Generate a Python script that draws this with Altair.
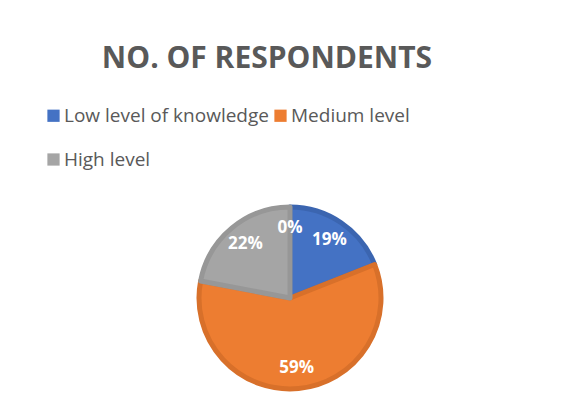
import altair as alt
import pandas as pd

categories = ["Low level of knowledge", "Medium level", "High level", "Other"]
values = [19, 59, 22, 0]
order_idx = [0, 1, 2, 3]
fill_colors = ["#4472C4", "#ED7D31", "#A5A5A5", "#FFC000"]
stroke_colors = ["#3B65B0", "#D8702A", "#979797", "#E0A800"]
legend_values = ["Low level of knowledge", "Medium level", "High level"]

df = pd.DataFrame({"category": categories, "value": values, "idx": order_idx})

base = alt.Chart(df).transform_calculate(
    label="datum.value + '%'"
).encode(
    theta=alt.Theta("value:Q", stack=True),
    order=alt.Order("idx:Q"),
)

arcs = base.mark_arc(radius=91, strokeJoin="round").encode(
    color=alt.Color(
        "category:N",
        scale=alt.Scale(domain=categories, range=fill_colors),
        legend=alt.Legend(
            values=legend_values,
            title=None,
            orient="none",
            legendX=-46,
            legendY=-92,
            columns=2,
            direction="horizontal",
            symbolType="square",
            symbolSize=150,
            symbolStrokeWidth=0,
            labelFont="Open Sans",
            labelFontSize=19,
            labelLimit=400,
            labelColor="#595959",
            rowPadding=24,
            columnPadding=2,
            labelOffset=1,
            padding=0,
        ),
    ),
    stroke=alt.Stroke(
        "category:N",
        scale=alt.Scale(domain=categories, range=stroke_colors),
        legend=None,
    ),
    strokeWidth=alt.condition("datum.value > 0", alt.value(5), alt.value(0)),
)

labels = base.mark_text(
    radius=70, font="Open Sans", fontSize=17, fontWeight="bold", color="white"
).encode(text="label:N")

chart = alt.layer(arcs, labels).properties(
    width=400,
    height=200,
    padding={"left": 82, "top": 190, "right": 68, "bottom": 10},
    autosize=alt.AutoSizeParams(type="none"),
    title=alt.TitleParams(
        "NO. OF RESPONDENTS",
        font="Open Sans",
        fontSize=30,
        fontWeight="bold",
        color="#595959",
        anchor="middle",
        offset=32,
        dx=-23,
    ),
).configure_view(stroke=None)

chart.save("out.html", embed_options={"renderer": "svg", "actions": False})
